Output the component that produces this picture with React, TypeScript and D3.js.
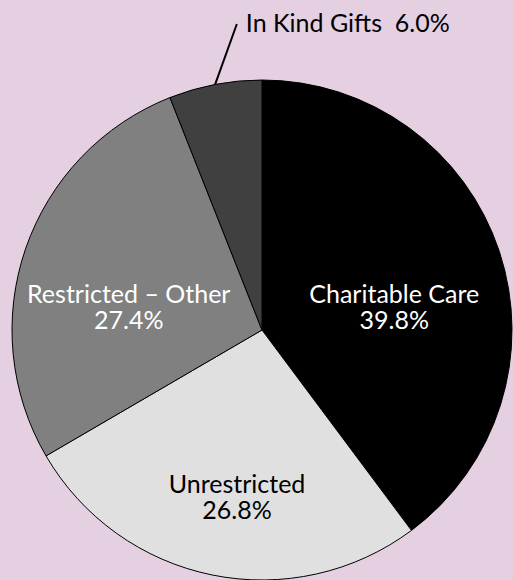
import React, { useEffect, useRef } from "react";
import * as d3 from "d3";

const categories = ["Charitable Care", "Unrestricted", "Restricted – Other", "In Kind Gifts"];
const shares = [39.8, 26.8, 27.4, 6.0];
const sliceColors = ["#000000", "#e0e0e0", "#808080", "#404040"];
const labelColors = ["#ffffff", "#000000", "#ffffff", "#000000"];

// label placement: [angle in degrees from 12 o'clock, distance from centre]
const labelPlacement = [
  [78.5, 135],
  [188.7, 165],
  [281.5, 136],
  [355.3, 307],
];

const W = 513;
const H = 580;
const cx = 262;
const cy = 330;
const radius = 250;
const font = "Lato, 'Open Sans', sans-serif";

function polar(deg: number, r: number): [number, number] {
  const a = (deg * Math.PI) / 180;
  return [cx + r * Math.sin(a), cy - r * Math.cos(a)];
}

function PieChart() {
  const ref = useRef<SVGSVGElement>(null);

  useEffect(() => {
    const svg = d3.select(ref.current);
    svg.selectAll("*").remove();

    svg.append("rect").attr("width", W).attr("height", H).attr("fill", "#e5d0e2");

    const data = categories.map((c, i) => ({ label: c, value: shares[i], i }));
    const pie = d3.pie<any>().sort(null).value((d) => d.value);
    const arc = d3.arc<any>().innerRadius(0).outerRadius(radius);

    const chart = svg.append("g").attr("transform", `translate(${cx}, ${cy})`);

    chart
      .selectAll("path")
      .data(pie(data))
      .enter()
      .append("path")
      .attr("d", arc)
      .attr("fill", (d) => sliceColors[d.data.i])
      .attr("stroke", "#000")
      .attr("stroke-width", 1);

    pie(data).forEach((d) => {
      const i = d.data.i;
      const [deg, r] = labelPlacement[i];
      const [x, y] = polar(deg, r);
      const pct = `${d.data.value.toFixed(1)}%`;

      if (i === 3) {
        // small slice: label outside with a leader line
        const mid = ((d.startAngle + d.endAngle) / 2) * (180 / Math.PI);
        const [x0, y0] = polar(mid, radius);
        svg
          .append("line")
          .attr("x1", x0)
          .attr("y1", y0)
          .attr("x2", x)
          .attr("y2", y)
          .attr("stroke", "#000")
          .attr("stroke-width", 2);
        svg
          .append("text")
          .attr("x", x + 9)
          .attr("y", y + 8)
          .attr("font-family", font)
          .attr("font-size", 25)
          .attr("fill", labelColors[i])
          .style("white-space", "pre")
          .text(`${d.data.label}  ${pct}`);
        return;
      }

      [d.data.label, pct].forEach((line, k) => {
        svg
          .append("text")
          .attr("x", x)
          .attr("y", y + k * 26)
          .attr("text-anchor", "middle")
          .attr("font-family", font)
          .attr("font-size", 25)
          .attr("fill", labelColors[i])
          .text(line);
      });
    });
  }, []);

  return <svg ref={ref} width={W} height={H} style={{ position: "absolute", left: 0, top: 0 }} />;
}

export default function App() {
  return <PieChart />;
}
